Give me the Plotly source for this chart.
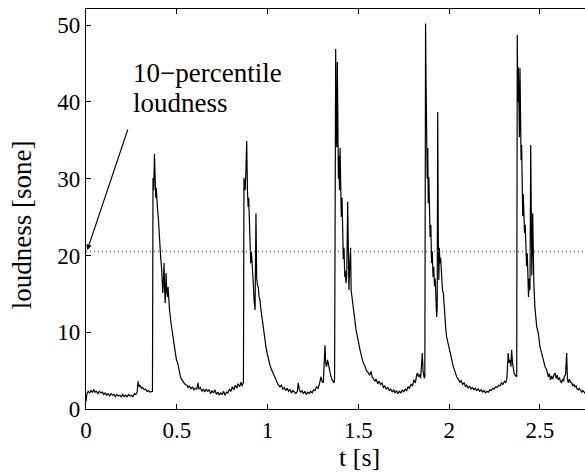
import plotly.graph_objects as go

# ---- data ----
time_s = [
    0.000, 0.005, 0.012, 0.020, 0.028, 0.035, 0.043, 0.050, 0.058, 0.066, 0.074, 0.082, 0.090, 0.098,
    0.106, 0.114, 0.122, 0.130, 0.138, 0.146, 0.154, 0.162, 0.170, 0.178, 0.186, 0.194, 0.202, 0.210,
    0.218, 0.226, 0.234, 0.242, 0.250, 0.258, 0.266, 0.274, 0.282, 0.287, 0.292, 0.298, 0.305, 0.312,
    0.320, 0.328, 0.336, 0.344, 0.352, 0.360, 0.366,
    0.369, 0.373, 0.377, 0.380, 0.384, 0.387, 0.390, 0.394, 0.398, 0.402, 0.407, 0.412, 0.417, 0.420,
    0.423, 0.427, 0.430, 0.433, 0.436, 0.439, 0.441, 0.445, 0.449, 0.452, 0.456, 0.460, 0.468, 0.474,
    0.479, 0.485, 0.492, 0.498, 0.505, 0.512, 0.520, 0.528, 0.538, 0.546, 0.556,
    0.562, 0.570, 0.578, 0.586, 0.594, 0.602, 0.610, 0.617, 0.622, 0.630, 0.638, 0.646, 0.654, 0.662,
    0.670, 0.678, 0.686, 0.694, 0.702, 0.710, 0.718, 0.726, 0.734, 0.742, 0.750, 0.758, 0.766, 0.774,
    0.782, 0.790, 0.798, 0.806, 0.814, 0.822, 0.830, 0.838, 0.846, 0.854, 0.860, 0.864, 0.867,
    0.870, 0.876, 0.880, 0.885, 0.889, 0.893, 0.896, 0.899, 0.903, 0.907, 0.911, 0.916, 0.921, 0.926,
    0.931, 0.936, 0.940, 0.945, 0.949, 0.953, 0.958, 0.963, 0.968, 0.976, 0.983, 0.991, 0.998, 1.004,
    1.012, 1.022, 1.030, 1.041, 1.050, 1.058, 1.068, 1.076, 1.084, 1.092, 1.100, 1.108, 1.116, 1.124,
    1.132, 1.140, 1.148, 1.156, 1.164, 1.169, 1.175, 1.183, 1.190, 1.197, 1.205, 1.213, 1.221, 1.229,
    1.237, 1.245, 1.253, 1.261, 1.270, 1.278, 1.286, 1.294, 1.300, 1.307, 1.316, 1.320, 1.325, 1.330,
    1.334, 1.340, 1.347, 1.355, 1.362, 1.366,
    1.369, 1.372, 1.375, 1.378, 1.381, 1.384, 1.387, 1.390, 1.393, 1.396, 1.399, 1.402, 1.406, 1.410,
    1.413, 1.417, 1.421, 1.425, 1.428, 1.432, 1.436, 1.441, 1.444, 1.448, 1.452, 1.457, 1.460, 1.465,
    1.472, 1.480, 1.487, 1.495, 1.502, 1.509, 1.518, 1.527, 1.536, 1.545, 1.555, 1.562, 1.570, 1.576,
    1.582, 1.590, 1.598, 1.606, 1.614, 1.622, 1.630, 1.638, 1.646, 1.654, 1.662, 1.670, 1.678, 1.686,
    1.694, 1.702, 1.710, 1.718, 1.726, 1.734, 1.742, 1.750, 1.758, 1.766, 1.774, 1.782, 1.790, 1.798,
    1.806, 1.814, 1.820, 1.825, 1.832, 1.838, 1.843, 1.848, 1.852, 1.856, 1.859, 1.863,
    1.866, 1.868, 1.870, 1.873, 1.876, 1.879, 1.882, 1.885, 1.888, 1.891, 1.895, 1.899, 1.903, 1.907,
    1.911, 1.915, 1.919, 1.923, 1.927, 1.931, 1.934, 1.937, 1.940, 1.943, 1.946, 1.949, 1.953, 1.958,
    1.963, 1.968, 1.973, 1.977, 1.982, 1.986, 1.995, 2.004, 2.013, 2.023, 2.032, 2.041, 2.050, 2.059,
    2.066, 2.074, 2.082, 2.090, 2.096, 2.104, 2.112, 2.120, 2.128, 2.136, 2.144, 2.152, 2.160, 2.168,
    2.176, 2.184, 2.192, 2.200, 2.208, 2.216, 2.224, 2.232, 2.240, 2.248, 2.256, 2.264, 2.272, 2.280,
    2.288, 2.296, 2.304, 2.312, 2.318, 2.325, 2.330, 2.335, 2.340, 2.344, 2.349, 2.353, 2.358, 2.363,
    2.368,
    2.372, 2.375, 2.378, 2.381, 2.384, 2.387, 2.390, 2.393, 2.396, 2.399, 2.402, 2.405, 2.408, 2.412,
    2.415, 2.419, 2.423, 2.426, 2.430, 2.434, 2.437, 2.441, 2.445, 2.449, 2.452, 2.455, 2.460, 2.463,
    2.466, 2.472, 2.477, 2.482, 2.491, 2.500, 2.509, 2.518, 2.528, 2.537, 2.546, 2.552, 2.558, 2.564,
    2.570, 2.576, 2.583, 2.589, 2.595, 2.601, 2.607, 2.613, 2.619, 2.625, 2.630, 2.634, 2.641, 2.647,
    2.651, 2.656, 2.662, 2.668, 2.675, 2.681, 2.687, 2.693, 2.699, 2.705, 2.711, 2.717, 2.724, 2.730,
    2.737, 2.743, 2.750, 2.760,
]

loudness_sone = [
    1.0, 2.0, 2.3, 2.1, 2.4, 2.2, 2.5, 2.2, 2.3, 2.0, 2.3, 2.1, 2.2, 1.9,
    2.1, 1.8, 2.0, 1.7, 2.0, 1.8, 1.9, 1.6, 1.9, 1.7, 1.8, 1.6, 1.9, 1.6,
    1.8, 1.6, 1.9, 1.7, 1.8, 1.6, 2.0, 1.9, 2.2, 3.6, 2.9, 3.1, 2.7, 2.8,
    2.5, 2.6, 2.3, 2.4, 2.2, 2.3, 2.3,
    30.1, 28.5, 33.2, 29.8, 27.5, 28.8, 27.0, 26.0, 25.0, 23.0, 21.1, 19.5, 18.1, 16.5,
    15.1, 17.0, 19.0, 15.5, 13.8, 16.0, 17.7, 15.2, 14.6, 15.9, 14.0, 12.9, 11.2, 10.2,
    9.4, 8.1, 6.8, 6.4, 6.0, 5.0, 4.2, 3.8, 3.4, 3.2, 3.1,
    2.8, 3.0, 2.6, 2.9, 2.5, 2.7, 2.6, 3.4, 2.6, 2.8, 2.3, 2.6, 2.2, 2.6,
    2.3, 2.5, 2.0, 2.4, 2.1, 2.5, 1.9, 2.2, 1.8, 2.1, 1.9, 2.3, 1.8, 2.2,
    2.1, 2.6, 2.3, 2.9, 2.5, 3.1, 2.7, 3.3, 2.9, 3.5, 3.0, 3.3, 3.5,
    30.1, 28.5, 30.5, 34.9, 28.5, 26.3, 27.5, 24.6, 22.4, 19.0, 20.5, 17.5, 16.4, 14.0,
    12.9, 25.5, 17.0, 16.0, 15.9, 14.6, 14.2, 13.0, 12.0, 10.7, 9.2, 8.1, 7.2, 6.4,
    5.8, 5.1, 4.6, 4.0, 3.6, 3.2, 2.9, 3.1, 2.6, 2.8, 2.4, 2.7, 2.3, 2.5,
    2.1, 2.4, 2.2, 2.0, 2.3, 3.4, 2.5, 2.2, 2.4, 2.0, 2.3, 1.9, 2.2, 2.0,
    2.3, 2.1, 2.5, 2.4, 2.9, 2.7, 3.3, 4.2, 3.6, 3.4, 8.3, 6.0, 5.5, 6.4,
    6.0, 5.0, 4.4, 3.8, 3.6, 3.4,
    4.0, 35.0, 46.9, 36.0, 34.1, 45.2, 36.5, 30.0, 33.0, 28.5, 34.0, 29.0, 25.0, 27.5,
    23.7, 19.5, 21.0, 17.2, 18.0, 16.4, 17.5, 27.0, 16.0, 15.5, 18.5, 21.0, 15.5, 14.5,
    12.9, 11.5, 10.3, 9.4, 8.4, 7.7, 6.8, 6.0, 5.6, 5.0, 4.7, 4.4, 4.9, 4.1,
    4.0, 3.6, 3.9, 3.3, 3.6, 3.2, 3.4, 2.8, 3.0, 2.6, 2.8, 2.4, 2.6, 2.2,
    2.5, 2.1, 2.4, 2.0, 2.3, 2.1, 2.5, 2.2, 2.6, 2.4, 2.9, 2.7, 3.2, 3.0,
    3.8, 3.4, 4.3, 4.7, 4.2, 4.5, 4.0, 5.5, 7.3, 5.0, 4.2, 4.0,
    4.2, 40.0, 50.2, 42.0, 35.9, 30.0, 34.0, 26.8, 30.2, 25.0, 22.4, 24.0, 19.0, 20.5,
    17.2, 18.5, 16.0, 17.0, 15.1, 12.0, 13.0, 38.7, 22.4, 16.8, 21.0, 19.0, 19.7, 16.8,
    15.5, 15.1, 13.0, 11.6, 10.2, 9.4, 8.4, 7.7, 6.6, 5.5, 4.9, 4.2, 3.9, 3.5,
    3.7, 3.2, 3.4, 2.9, 3.1, 2.7, 3.0, 2.6, 2.8, 2.5, 2.7, 2.4, 2.6, 2.3,
    2.5, 2.2, 2.4, 2.1, 2.3, 2.2, 2.5, 2.4, 2.7, 2.6, 2.9, 2.8, 3.1, 3.0,
    3.4, 3.2, 3.6, 3.4, 4.0, 7.3, 6.0, 6.4, 5.5, 7.7, 6.0, 5.1, 4.6, 4.4,
    4.2,
    4.2, 48.7, 40.0, 44.5, 38.0, 35.4, 44.4, 35.4, 32.4, 34.4, 30.0, 25.1, 28.0, 25.5,
    22.9, 24.0, 21.0, 18.6, 20.3, 16.5, 14.6, 17.0, 15.5, 34.4, 19.0, 17.4, 25.5, 17.0,
    16.6, 13.3, 12.0, 10.7, 9.9, 8.1, 7.3, 6.4, 5.5, 5.1, 4.2, 4.6, 3.8, 4.3,
    3.9, 4.4, 4.7, 4.0, 4.4, 3.8, 4.1, 3.6, 3.4, 3.9, 3.6, 4.2, 4.5, 7.3,
    4.0, 3.4, 3.9, 3.5, 3.4, 3.0, 3.2, 2.9, 3.0, 2.6, 2.5, 2.7, 2.3, 2.2,
    2.4, 2.2, 2.0, 2.1,
]

p10_loudness = 20.5          # 10-percentile loudness [sone]
x_tick_values = [0, 0.5, 1, 1.5, 2, 2.5]
x_tick_labels = ["0", "0.5", "1", "1.5", "2", "2.5"]
y_tick_values = [0, 10, 20, 30, 40, 50]
y_tick_labels = ["0", "10", "20", "30", "40", "50"]
x_range = [0, 2.748]
y_range = [0, 52.1]

FONT = "Liberation Serif"

fig = go.Figure()

fig.add_trace(go.Scatter(
    x=time_s, y=loudness_sone, mode="lines",
    line=dict(color="black", width=1.2),
    showlegend=False, hoverinfo="skip",
))

fig.add_trace(go.Scatter(
    x=[x_range[0], x_range[1]], y=[p10_loudness, p10_loudness], mode="lines",
    line=dict(color="#666666", width=1.5, dash="1px,3px"),
    showlegend=False, hoverinfo="skip",
))

fig.add_annotation(
    x=0.007, y=20.7, xref="x", yref="y",
    ax=0.233, ay=36.6, axref="x", ayref="y",
    text="", showarrow=True, arrowhead=2, arrowsize=1.0, arrowwidth=1.1,
    arrowcolor="black",
)
fig.add_annotation(
    x=0.248, y=43.8, xref="x", yref="y", xanchor="left", yanchor="middle",
    text="10\u2212percentile", showarrow=False,
    font=dict(family=FONT, size=27, color="black"),
)
fig.add_annotation(
    x=0.248, y=39.9, xref="x", yref="y", xanchor="left", yanchor="middle",
    text="loudness", showarrow=False,
    font=dict(family=FONT, size=27, color="black"),
)

# axis titles (placed as in the reference, whose axes extend past the crop)
fig.add_annotation(
    x=0.549, y=-0.122, xref="paper", yref="paper", xanchor="center", yanchor="middle",
    text="t [s]", showarrow=False,
    font=dict(family=FONT, size=26, color="black"),
)
fig.add_annotation(
    x=-0.128, y=0.46, xref="paper", yref="paper", xanchor="center", yanchor="middle",
    text="loudness [sone]", showarrow=False, textangle=-90,
    font=dict(family=FONT, size=27, color="black"),
)

fig.update_layout(
    width=585, height=472,
    margin=dict(l=86, r=0, t=9, b=63),
    paper_bgcolor="white", plot_bgcolor="white",
    font=dict(family=FONT, size=23, color="black"),
    xaxis=dict(
        range=x_range, tickvals=x_tick_values, ticktext=x_tick_labels,
        ticks="inside", ticklen=5, tickwidth=1, tickcolor="black",
        showline=True, linecolor="black", linewidth=1.3, mirror="ticks",
        showgrid=False, zeroline=False,
        tickfont=dict(family=FONT, size=23),
    ),
    yaxis=dict(
        range=y_range, tickvals=y_tick_values, ticktext=y_tick_labels,
        ticks="inside", ticklen=5, tickwidth=1, tickcolor="black",
        showline=True, linecolor="black", linewidth=1.3, mirror=False,
        showgrid=False, zeroline=False,
        tickfont=dict(family=FONT, size=23),
    ),
)

fig.write_html("out.html")
